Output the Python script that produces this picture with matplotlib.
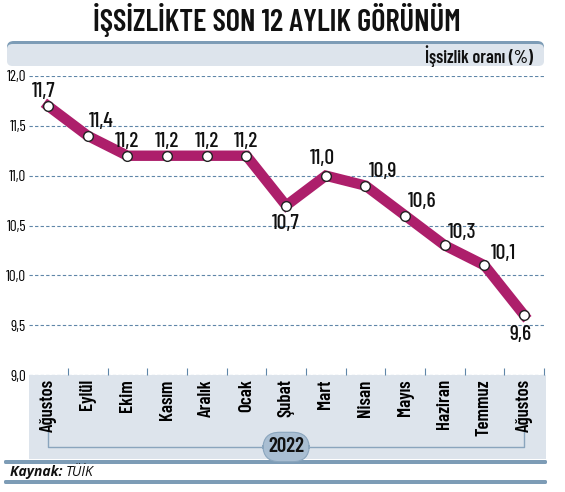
import matplotlib.pyplot as plt
from matplotlib.patches import FancyBboxPatch, Rectangle
from matplotlib.text import Annotation
from matplotlib.transforms import blended_transform_factory

months = ["Ağustos", "Eylül", "Ekim", "Kasım", "Aralık", "Ocak", "Şubat",
          "Mart", "Nisan", "Mayıs", "Haziran", "Temmuz", "Ağustos"]
rates = [11.7, 11.4, 11.2, 11.2, 11.2, 11.2, 10.7, 11.0, 10.9, 10.6, 10.3, 10.1, 9.6]
y_ticks = [9.0, 9.5, 10.0, 10.5, 11.0, 11.5, 12.0]
# label offsets in pixels (dx, dy)
label_offsets = [(-4, 14), (13, 14), (0, 14), (0, 14), (0, 14), (0, 14), (0, -18),
                 (-3, 17), (18, 14), (17, 14), (17, 13), (19, 12), (-4, -19)]

W, H = 565, 492
COND = ["Barlow Condensed", "DejaVu Sans"]
plt.rcParams["font.family"] = COND

LINE = "#ad1f6b"
GRID = "#5f86a8"
PANEL = "#dde4ec"
BAR = "#7d9cb6"
INK = "#111111"

fig = plt.figure(figsize=(W / 100, H / 100), dpi=100)


def fx(px):
    return px / W


def fy(py):
    return 1 - py / H


# title
fig.text(fx(277), fy(20), "İŞSİZLİKTE SON 12 AYLIK GÖRÜNÜM", ha="center", va="center",
         fontsize=22, fontweight="semibold", color=INK)

# header band
fig.patches.append(FancyBboxPatch((fx(7), fy(62)), fx(537), fy(41) - fy(62),
                                  boxstyle="round,pad=0,rounding_size=0.012",
                                  transform=fig.transFigure, facecolor=BAR,
                                  edgecolor="none", zorder=0))
fig.patches.append(FancyBboxPatch((fx(7), fy(66)), fx(537), fy(44) - fy(66),
                                  boxstyle="round,pad=0,rounding_size=0.01",
                                  transform=fig.transFigure, facecolor=PANEL,
                                  edgecolor="none", zorder=0))
fig.text(fx(533), fy(56), "İşsizlik oranı (%)", ha="right", va="center",
         fontsize=13, fontweight="semibold", color=INK)

# lower panel behind month labels
fig.patches.append(Rectangle((fx(29), fy(459)), fx(517), fy(375) - fy(459),
                             transform=fig.transFigure, facecolor=PANEL,
                             edgecolor="none", zorder=0))
for yb in (462, 482):
    fig.patches.append(FancyBboxPatch((fx(4), fy(yb + 2)), fx(543), fy(yb - 2) - fy(yb + 2),
                                      boxstyle="round,pad=0,rounding_size=0.003",
                                      transform=fig.transFigure, facecolor=BAR,
                                      edgecolor="none", zorder=0))
src = fig.text(fx(10), fy(472), "Kaynak: ", ha="left", va="center", fontsize=10,
               fontweight="bold", fontstyle="italic", color=INK,
               family=["Open Sans", "DejaVu Sans"])
fig.add_artist(Annotation("TÜİK", xy=(1, 0.5), xycoords=src, va="center",
                          ha="left", fontsize=10, fontstyle="italic", color=INK,
                          family=["Open Sans", "DejaVu Sans"]))

ax = fig.add_axes([fx(29), fy(375), fx(517), fy(76) - fy(375)])
ax.set_zorder(2)
ax.set_facecolor("none")
ax.set_xlim(-0.48, 12.55)
ax.set_ylim(9.0, 12.0)
for s in ax.spines.values():
    s.set_visible(False)

for yv in y_ticks:
    ax.axhline(yv, color=GRID, lw=0.8, ls=(0, (3, 2)), zorder=1)

x = list(range(len(rates)))
ax.plot(x, rates, color=LINE, lw=7.5, solid_joinstyle="miter", zorder=3)
ax.plot(x, rates, ls="none", marker="o", ms=7, mfc="white", mec="#222222",
        mew=1.0, zorder=4)

for xi, v, (dx, dy) in zip(x, rates, label_offsets):
    ax.annotate(f"{v:.1f}".replace(".", ","), (xi, v), xytext=(dx, dy),
                textcoords="offset pixels", ha="center", va="center",
                fontsize=15.5, fontweight="medium", color=INK, zorder=5)

ax.set_yticks(y_ticks)
ax.set_yticklabels([f"{v:.1f}".replace(".", ",") for v in y_ticks])
ax.tick_params(axis="y", length=0, pad=2, labelsize=11)

ax.set_xticks(x)
ax.set_xticklabels(months, rotation=90, fontsize=13.5, fontweight="semibold")
ax.tick_params(axis="x", length=0, pad=3)
ax.set_xticks([i + 0.5 for i in x], minor=True)
ax.tick_params(axis="x", which="minor", direction="in", length=5, color=GRID, width=0.8)

# year bracket
tr = blended_transform_factory(ax.transData, fig.transFigure)
ax.plot([0, 0, 12, 12], [fy(431), fy(447), fy(447), fy(431)], transform=tr,
        color="#8aa5bd", lw=1.0, clip_on=False, zorder=1)
ax.text(6, fy(447), "2022", transform=tr, ha="center", va="center", fontsize=15,
        fontweight="semibold", color=INK, zorder=3,
        bbox=dict(boxstyle="round,pad=0.25,rounding_size=0.8", facecolor="#a9bed2",
                  edgecolor="#8aa5bd", lw=0.8))

fig.savefig("out.png", dpi=100)
